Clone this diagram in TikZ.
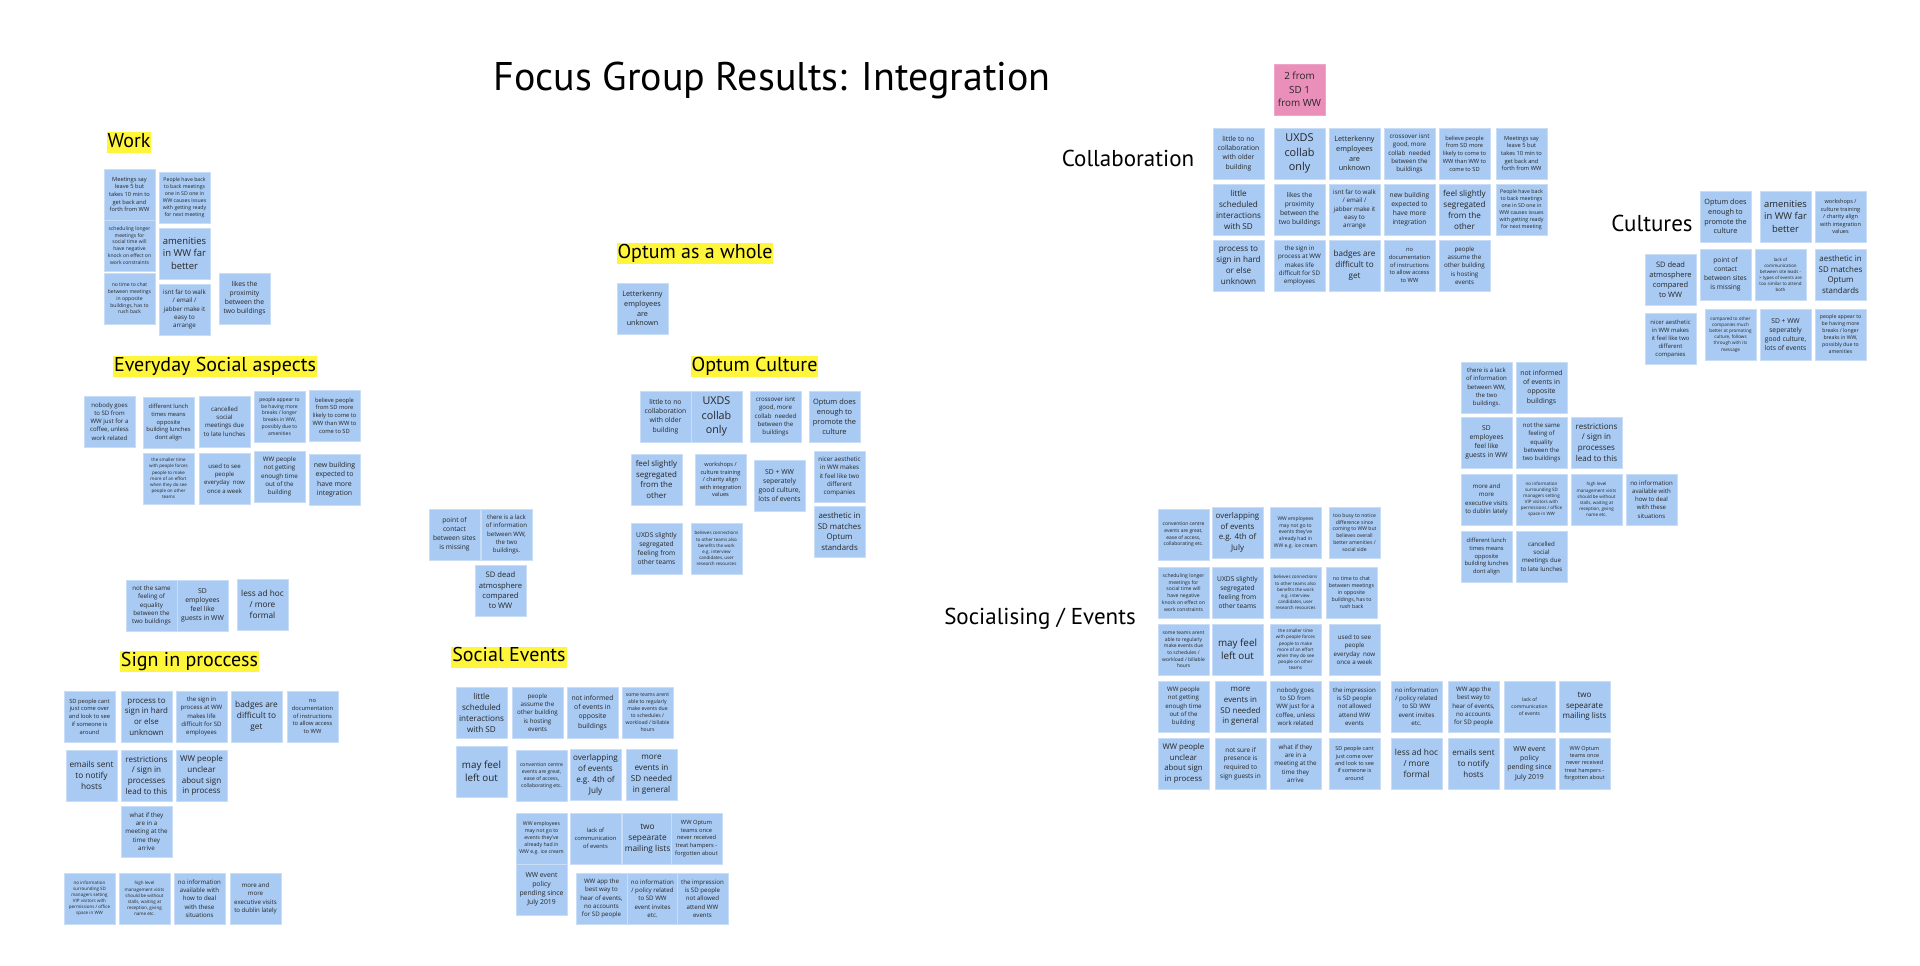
\documentclass[tikz,border=0pt]{standalone}
\usepackage{fontspec}
\setmainfont{Open Sans}
\newfontfamily\headfont{PT Sans}
\definecolor{notebl}{HTML}{A8CAF3}
\definecolor{noteedge}{HTML}{C9DDF6}
\definecolor{notetxt}{HTML}{262626}
\definecolor{pinknote}{HTML}{EA8FBA}
\definecolor{hlyellow}{HTML}{FFF63C}
\newcommand\nt[6][note]{\pgfmathsetmacro\ntfs{0.74*#5}\node[#1,font=\fontsize{\ntfs pt}{#5pt}\selectfont] (#2) at (#3+25.5,#4+25.5) {#6};}
\begin{document}
\begin{tikzpicture}[x=1pt,y=-1pt,
  note/.style={rectangle,fill=notebl,draw=noteedge,line width=0.6pt,minimum width=51pt,minimum height=51pt,inner sep=0pt,align=center,text=notetxt},
  pnote/.style={note,fill=pinknote,draw=pinknote!80!white},
  hlabel/.style={fill=hlyellow,inner xsep=1pt,inner ysep=0pt,text height=15pt,text depth=6pt,font=\headfont\fontsize{20pt}{24pt}\selectfont},
  plabel/.style={anchor=base,inner sep=0pt,font=\headfont\fontsize{23pt}{28pt}\selectfont}]
\useasboundingbox[fill=white] (0,0) rectangle (1920,966);

% title
\node[anchor=base,inner sep=0pt,font=\headfont\fontsize{40pt}{48pt}\selectfont] (title) at (772,91) {Focus Group Results: Integration};

% ---------- Work ----------
\node[hlabel] (lwork) at (129,142.5) {Work};
\nt{w1}{104}{169}{7.7}{Meetings say\\leave 5 but\\takes 10 min to\\get back and\\forth from WW}
\nt{w2}{159}{172}{7.0}{People have back\\to back meetings\\one in SD one in\\WW causes issues\\with getting ready\\for next meeting}
\nt{w3}{104}{220}{6.8}{scheduling longer\\meetings for\\social time will\\have negative\\knock on effect on\\work constraints}
\nt{w4}{159}{228}{12.8}{amenities\\in WW far\\better}
\nt{w5}{104}{273}{6.8}{no time to chat\\between meetings\\in opposite\\buildings, has to\\rush back}
\nt{w6}{159}{284}{8.4}{isnt far to walk\\/ email /\\jabber make it\\easy to\\arrange}
\nt{w7}{219}{273}{9.1}{likes the\\proximity\\between the\\two buildings}

% ---------- Everyday Social aspects ----------
\node[hlabel] (leveryday) at (215,366.5) {Everyday Social aspects};
\nt{e1}{84}{396}{8.2}{nobody goes\\to SD from\\WW just for a\\coffee, unless\\work related}
\nt{e2}{143}{397}{7.8}{different lunch\\times means\\opposite\\building lunches\\dont align}
\nt{e3}{199}{396}{8.3}{cancelled\\social\\meetings due\\to late lunches}
\nt{e4}{254}{391}{6.8}{people appear to\\be having more\\breaks / longer\\breaks in WW,\\possibly due to\\amenities}
\nt{e5}{309}{390}{7.8}{believe people\\from SD more\\likely to come to\\WW than WW to\\come to SD}
\nt{e6}{143}{453}{6.1}{the smaller time\\with people forces\\people to make\\more of an effort\\when they do see\\people on other\\teams}
\nt{e7}{199}{453}{8.2}{used to see\\people\\everyday~~now\\once a week}
\nt{e8}{254}{451}{8.4}{WW people\\not getting\\enough time\\out of the\\building}
\nt{e9}{309}{454}{9.4}{new building\\expected to\\have more\\integration}

\nt{q1}{126}{580}{8.4}{not the same\\feeling of\\equality\\between the\\two buildings}
\nt{q2}{177}{580}{9.2}{SD\\employees\\feel like\\guests in WW}
\nt{q3}{237}{579}{11.2}{less ad hoc\\/ more\\formal}

% ---------- Sign in proccess ----------
\node[hlabel] (lsignin) at (189.5,661.5) {Sign in proccess};
\nt{s1}{64}{691}{7.8}{SD people cant\\just come over\\and look to see\\if someone is\\around}
\nt{s2}{121}{691}{10.7}{process to\\sign in hard\\or else\\unknown}
\nt{s3}{176}{691}{8.2}{the sign in\\process at WW\\makes life\\difficult for SD\\employees}
\nt{s4}{231}{691}{11.2}{badges are\\difficult to\\get}
\nt{s5}{287}{691}{7.8}{no\\documentation\\of instructions\\to allow access\\to WW}
\nt{s6}{66}{750}{11.2}{emails sent\\to notify\\hosts}
\nt{s7}{121}{750}{10.9}{restrictions\\/ sign in\\processes\\lead to this}
\nt{s8}{176}{750}{10.9}{WW people\\unclear\\about sign\\in process}
\nt{s9}{121}{806}{8.4}{what if they\\are in a\\meeting at the\\time they\\arrive}
\nt{s10}{64}{873}{6.1}{no information\\surrounding SD\\managers setting\\VIP visitors with\\permissions / office\\space in WW}
\nt{s11}{119}{873}{6.1}{high level\\management visits\\should be without\\stalls, waiting at\\reception, giving\\name etc.}
\nt{s12}{174}{873}{8.3}{no information\\available with\\how to deal\\with these\\situations}
\nt{s13}{230}{873}{8.3}{more and\\more\\executive visits\\to dublin lately}

% ---------- Optum as a whole ----------
\node[hlabel] (lwhole) at (695,253.5) {Optum as a whole};
\nt{o1}{617}{283}{9.8}{Letterkenny\\employees\\are\\unknown}

% ---------- Optum Culture ----------
\node[hlabel] (lculture) at (754.5,366.5) {Optum Culture};
\nt{c1}{640}{391}{9.2}{little to no\\collaboration\\with older\\building}
\nt{c2}{691}{391}{14.5}{UXDS\\collab\\only}
\nt{c3}{750}{391}{8.3}{crossover isnt\\good, more\\collab~~needed\\between the\\buildings}
\nt{c4}{809}{391}{10}{Optum does\\enough to\\promote the\\culture}
\nt{c5}{631}{454}{10.7}{feel slightly\\segregated\\from the\\other}
\nt{c6}{695}{454}{7.6}{workshops /\\culture training\\/ charity align\\with integration\\values}
\nt{c7}{754}{460}{9.2}{SD + WW\\seperately\\good culture,\\lots of events}
\nt{c8}{814}{451}{8.4}{nicer aesthetic\\in WW makes\\it feel like two\\different\\companies}
\nt{c9}{814}{506}{10.6}{aesthetic in\\SD matches\\Optum\\standards}
\nt{c10}{631}{523}{9}{UXDS slightly\\segregated\\feeling from\\other teams}
\nt{c11}{691}{523}{6.1}{believes connections\\to other teams also\\benefits the work\\e.g. interview\\candidates, user\\research resources}

% ---------- point of contact cluster ----------
\nt{p1}{429}{509}{9}{point of\\contact\\between sites\\is missing}
\nt{p2}{481}{509}{8.25}{there is a lack\\of information\\between WW,\\the two\\buildings.}
\nt{p3}{475}{565}{10.3}{SD dead\\atmosphere\\compared\\to WW}

% ---------- Social Events ----------
\node[hlabel] (lsocial) at (509,657) {Social Events};
\nt{v1}{456}{687}{11}{little\\scheduled\\interactions\\with SD}
\nt{v2}{512}{687}{8.4}{people\\assume the\\other building\\is hosting\\events}
\nt{v3}{567}{687}{9.2}{not informed\\of events in\\opposite\\buildings}
\nt{v4}{622}{687}{6.9}{some teams arent\\able to regularly\\make events due\\to schedules /\\workload / billable\\hours}
\nt{v5}{456}{746}{13.3}{may feel\\left out}
\nt{v6}{516}{750}{6.9}{convention centre\\events are great,\\ease of access,\\collaborating etc.}
\nt{v7}{570}{749}{11}{overlapping\\of events\\e.g. 4th of\\July}
\nt{v8}{626}{749}{11}{more\\events in\\SD needed\\in general}
\nt{v9}{516}{813}{7}{WW employees\\may not go to\\events they've\\already had in\\WW e.g. ice cream}
\nt{v10}{570}{813}{7.8}{lack of\\communication\\of events}
\nt{v11}{622}{813}{11.2}{two\\sepearate\\mailing lists}
\nt{v12}{671}{813}{7.8}{WW Optum\\teams once\\never received\\treat hampers -\\forgotten about}
\nt{v13}{516}{864}{9.2}{WW event\\policy\\pending since\\July 2019}
\nt{v14}{576}{873}{8.3}{WW app the\\best way to\\hear of events,\\no accounts\\for SD people}
\nt{v15}{627}{873}{8.3}{no information\\/ policy related\\to SD WW\\event invites\\etc.}
\nt{v16}{677}{873}{8.3}{the impression\\is SD people\\not allowed\\attend WW\\events}

% ---------- Collaboration ----------
\node[plabel] (lcollab) at (1128,166.5) {Collaboration};
\nt[pnote]{pk}{1274}{64}{13.3}{2 from\\SD 1\\from WW}
\nt{k1}{1213}{128}{9.2}{little to no\\collaboration\\with older\\building}
\nt{k2}{1274}{128}{14.7}{UXDS\\collab\\only}
\nt{k3}{1329}{128}{9.8}{Letterkenny\\employees\\are\\unknown}
\nt{k4}{1384}{128}{8.4}{crossover isnt\\good, more\\collab~~needed\\between the\\buildings}
\nt{k5}{1439}{128}{7.7}{believe people\\from SD more\\likely to come to\\WW than WW to\\come to SD}
\nt{k6}{1496}{128}{7.7}{Meetings say\\leave 5 but\\takes 10 min to\\get back and\\forth from WW}
\nt{k7}{1213}{184}{11}{little\\scheduled\\interactions\\with SD}
\nt{k8}{1274}{184}{9}{likes the\\proximity\\between the\\two buildings}
\nt{k9}{1329}{184}{8.4}{isnt far to walk\\/ email /\\jabber make it\\easy to\\arrange}
\nt{k10}{1384}{184}{9}{new building\\expected to\\have more\\integration}
\nt{k11}{1439}{184}{11}{feel slightly\\segregated\\from the\\other}
\nt{k12}{1496}{184}{7.1}{People have back\\to back meetings\\one in SD one in\\WW causes issues\\with getting ready\\for next meeting}
\nt{k13}{1213}{240}{11}{process to\\sign in hard\\or else\\unknown}
\nt{k14}{1274}{240}{8.4}{the sign in\\process at WW\\makes life\\difficult for SD\\employees}
\nt{k15}{1329}{240}{11}{badges are\\difficult to\\get}
\nt{k16}{1384}{240}{7.8}{no\\documentation\\of instructions\\to allow access\\to WW}
\nt{k17}{1439}{240}{8.4}{people\\assume the\\other building\\is hosting\\events}

% ---------- Cultures ----------
\node[plabel] (lcultures) at (1652,231) {Cultures};
\nt{u1}{1700}{191}{9.8}{Optum does\\enough to\\promote the\\culture}
\nt{u2}{1760}{191}{12.7}{amenities\\in WW far\\better}
\nt{u3}{1815}{191}{7.5}{workshops /\\culture training\\/ charity align\\with integration\\values}
\nt{u4}{1645}{254}{10.1}{SD dead\\atmosphere\\compared\\to WW}
\nt{u5}{1700}{249}{9}{point of\\contact\\between sites\\is missing}
\nt{u6}{1755}{249}{6}{lack of\\communication\\between site leads -\\> types of events are\\too similar to attend\\both}
\nt{u7}{1815}{249}{10.7}{aesthetic in\\SD matches\\Optum\\standards}
\nt{u8}{1645}{313}{8}{nicer aesthetic\\in WW makes\\it feel like two\\different\\companies}
\nt{u9}{1705}{309}{6.2}{compared to other\\companies much\\better at promoting\\culture, follows\\through with its\\message}
\nt{u10}{1760}{309}{9.1}{SD + WW\\seperately\\good culture,\\lots of events}
\nt{u11}{1815}{309}{7}{people appear to\\be having more\\breaks / longer\\breaks in WW,\\possibly due to\\amenities}

% ---------- right middle cluster ----------
\nt{r1}{1461}{362}{8.2}{there is a lack\\of information\\between WW,\\the two\\buildings.}
\nt{r2}{1516}{362}{9.3}{not informed\\of events in\\opposite\\buildings}
\nt{r3}{1461}{417}{9.1}{SD\\employees\\feel like\\guests in WW}
\nt{r4}{1516}{417}{8.2}{not the same\\feeling of\\equality\\between the\\two buildings}
\nt{r5}{1571}{417}{10.8}{restrictions\\/ sign in\\processes\\lead to this}
\nt{r6}{1461}{474}{8.3}{more and\\more\\executive visits\\to dublin lately}
\nt{r7}{1516}{474}{6.1}{no information\\surrounding SD\\managers setting\\VIP visitors with\\permissions / office\\space in WW}
\nt{r8}{1571}{474}{6.1}{high level\\management visits\\should be without\\stalls, waiting at\\reception, giving\\name etc.}
\nt{r9}{1626}{474}{8.2}{no information\\available with\\how to deal\\with these\\situations}
\nt{r10}{1461}{531}{7.8}{different lunch\\times means\\opposite\\building lunches\\dont align}
\nt{r11}{1516}{531}{8.3}{cancelled\\social\\meetings due\\to late lunches}

% ---------- Socialising / Events ----------
\node[plabel] (lsocialising) at (1040,624.5) {Socialising / Events};
\nt{g1}{1158}{509}{6.7}{convention centre\\events are great,\\ease of access,\\collaborating etc.}
\nt{g2}{1212}{507}{10.7}{overlapping\\of events\\e.g. 4th of\\July}
\nt{g3}{1270}{507}{6.8}{WW employees\\may not go to\\events they've\\already had in\\WW e.g. ice cream}
\nt{g4}{1329}{507}{6.9}{too busy to notice\\difference since\\coming to WW but\\believes overall\\better amenities /\\social side}
\nt{g5}{1158}{567}{6.8}{scheduling longer\\meetings for\\social time will\\have negative\\knock on effect on\\work constraints}
\nt{g6}{1212}{567}{9}{UXDS slightly\\segregated\\feeling from\\other teams}
\nt{g7}{1270}{567}{6.1}{believes connections\\to other teams also\\benefits the work\\e.g. interview\\candidates, user\\research resources}
\nt{g8}{1326}{567}{7.1}{no time to chat\\between meetings\\in opposite\\buildings, has to\\rush back}
\nt{g9}{1158}{624}{6.7}{some teams arent\\able to regularly\\make events due\\to schedules /\\workload / billable\\hours}
\nt{g10}{1212}{624}{13.3}{may feel\\left out}
\nt{g11}{1270}{624}{6.2}{the smaller time\\with people forces\\people to make\\more of an effort\\when they do see\\people on other\\teams}
\nt{g12}{1329}{624}{8.4}{used to see\\people\\everyday~~now\\once a week}
\nt{g13}{1158}{681}{8.3}{WW people\\not getting\\enough time\\out of the\\building}
\nt{g14}{1215}{681}{10.7}{more\\events in\\SD needed\\in general}
\nt{g15}{1270}{681}{8.3}{nobody goes\\to SD from\\WW just for a\\coffee, unless\\work related}
\nt{g16}{1329}{681}{8.3}{the impression\\is SD people\\not allowed\\attend WW\\events}
\nt{g17}{1391}{681}{8.3}{no information\\/ policy related\\to SD WW\\event invites\\etc.}
\nt{g18}{1448}{681}{8.3}{WW app the\\best way to\\hear of events,\\no accounts\\for SD people}
\nt{g19}{1504}{681}{6.7}{lack of\\communication\\of events}
\nt{g20}{1559}{681}{10.8}{two\\sepearate\\mailing lists}
\nt{g21}{1158}{738}{10.6}{WW people\\unclear\\about sign\\in process}
\nt{g22}{1215}{738}{8.7}{not sure if\\presence is\\required to\\sign guests in}
\nt{g23}{1270}{738}{8.4}{what if they\\are in a\\meeting at the\\time they\\arrive}
\nt{g24}{1329}{738}{7.4}{SD people cant\\just come over\\and look to see\\if someone is\\around}
\nt{g25}{1391}{738}{11.3}{less ad hoc\\/ more\\formal}
\nt{g26}{1448}{738}{10.8}{emails sent\\to notify\\hosts}
\nt{g27}{1504}{738}{9.3}{WW event\\policy\\pending since\\July 2019}
\nt{g28}{1559}{738}{7.4}{WW Optum\\teams once\\never received\\treat hampers -\\forgotten about}
\end{tikzpicture}
\end{document}
